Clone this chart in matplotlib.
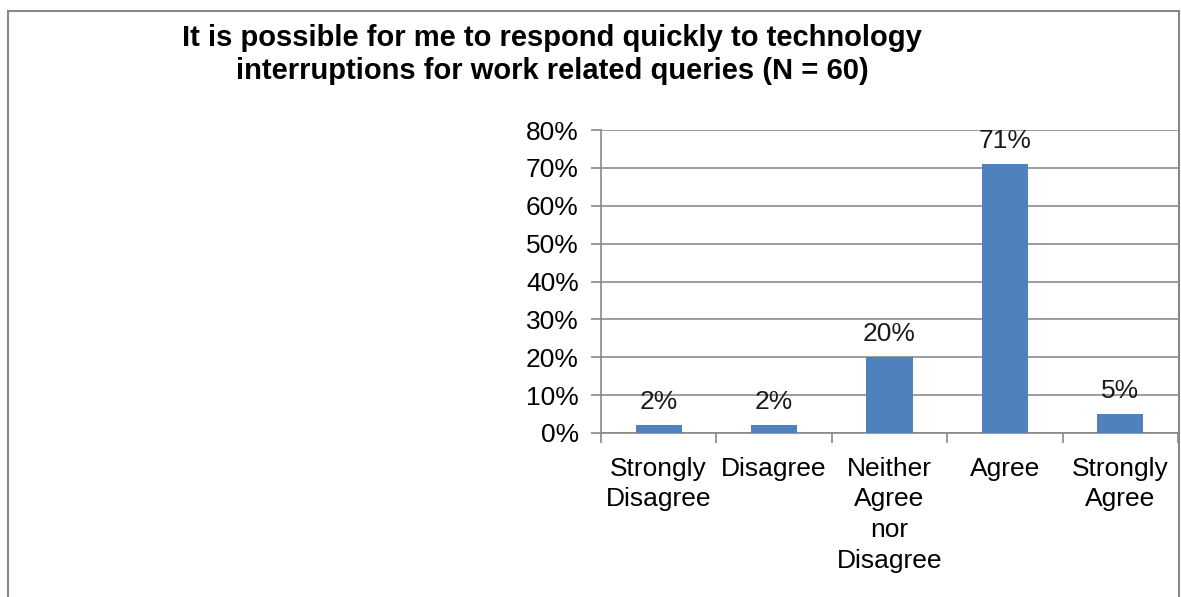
import matplotlib
matplotlib.use("Agg")
import matplotlib.pyplot as plt
from matplotlib.patches import Rectangle
from matplotlib.ticker import FixedLocator, NullFormatter

categories = ["Strongly\nDisagree", "Disagree", "Neither\nAgree\nnor\nDisagree", "Agree", "Strongly\nAgree"]
values = [2, 2, 20, 71, 5]
labels = ["2%", "2%", "20%", "71%", "5%"]
yticks = [0, 10, 20, 30, 40, 50, 60, 70, 80]

plt.rcParams['font.family'] = ['Liberation Sans', 'DejaVu Sans']
FS = 19
W, H = 1181, 597
fig = plt.figure(figsize=(W/100, H/100), dpi=100)
ax = fig.add_axes([601/W, 1-433/H, (1178-601)/W, (433-130)/H])

x = list(range(len(values)))
ax.bar(x, values, width=0.4, color="#4F81BD", zorder=3)
for xi, v, lab in zip(x, values, labels):
    ax.annotate(lab, (xi, v), xytext=(0, 8), textcoords="offset points",
                ha="center", va="bottom", fontsize=FS, color="#1a1a1a")

ax.set_xlim(-0.5, len(values) - 0.5)
ax.set_ylim(0, 80)
ax.set_yticks(yticks)
ax.set_yticklabels([f"{t}%" for t in yticks], fontsize=FS)
ax.set_xticks(x)
ax.set_xticklabels(categories, fontsize=FS, linespacing=1.36)
ax.tick_params(axis="x", length=0, pad=17)
ax.xaxis.set_minor_locator(FixedLocator([i + 0.5 for i in range(-1, len(values))]))
ax.xaxis.set_minor_formatter(NullFormatter())
ax.tick_params(axis="x", which="minor", length=7, color="#888888", width=1.2)
ax.tick_params(axis="y", length=7, color="#888888", width=1.2, pad=9)
ax.grid(axis="y", color="#8c8c8c", linewidth=1.2, zorder=0)
for s in ["top", "right"]:
    ax.spines[s].set_visible(False)
for s in ["left", "bottom"]:
    ax.spines[s].set_color("#888888")
    ax.spines[s].set_linewidth(1.2)

fig.text(552/W, 1-38/H, "It is possible for me to respond quickly to technology",
         ha="center", va="center", fontsize=21, fontweight="bold")
fig.text(552/W, 1-71/H, "interruptions for work related queries (N = 60)",
         ha="center", va="center", fontsize=21, fontweight="bold")

fig.patches.append(Rectangle((8/W, -0.1), (1179-8)/W, 1.1 - 11/H, transform=fig.transFigure,
                             fill=False, edgecolor="#888888", linewidth=1.5))

fig.savefig("out.png", dpi=100)
